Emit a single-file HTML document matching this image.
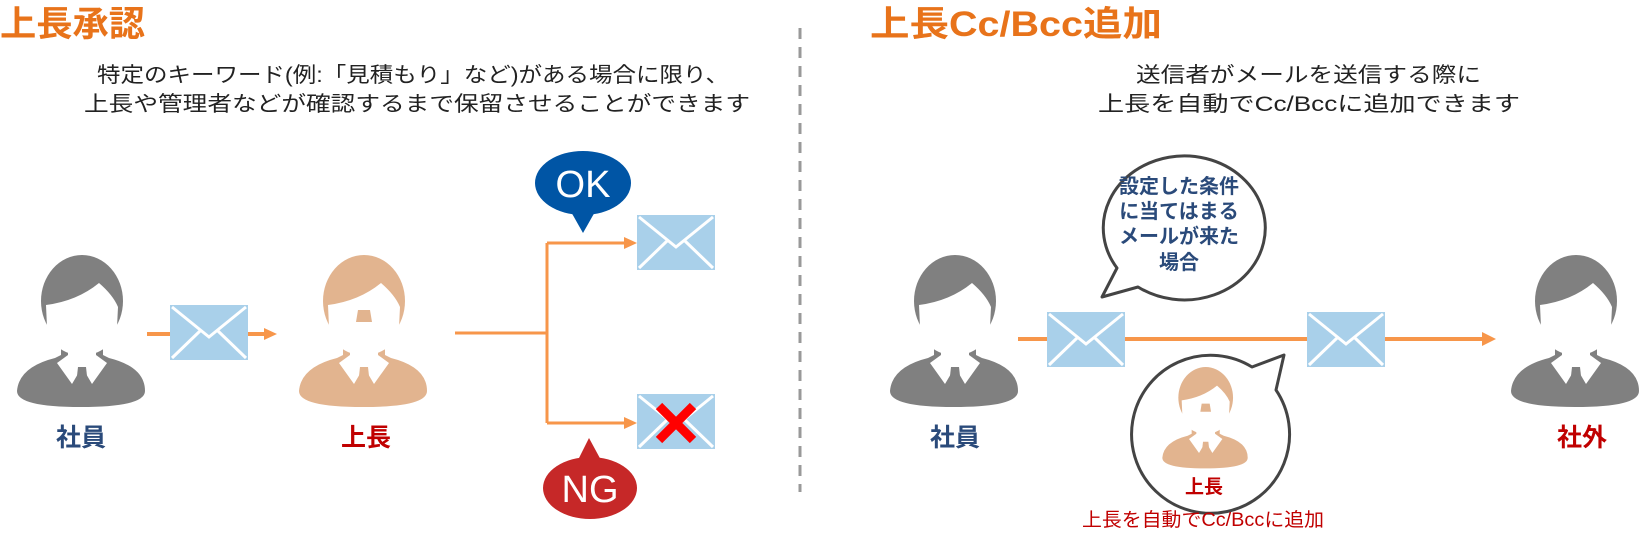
<!DOCTYPE html>
<html><head><meta charset="utf-8"><style>
html,body{margin:0;padding:0;background:#fff;}
svg{display:block;}
text{font-family:"Liberation Sans","Noto Sans CJK JP",sans-serif;}
</style></head><body>
<svg width="1640" height="533" viewBox="0 0 1640 533" xmlns="http://www.w3.org/2000/svg">
<defs>
<g id="body">
  <ellipse cx="67" cy="46" rx="41" ry="46"/>
  <path d="M2,136 Q4,112 40,103 L52,97 L82,97 L94,103 Q130,112 130,136 Q130,152 66,152 Q2,152 2,136 Z"/>
  <rect x="46" y="80" width="42" height="22"/>
</g>
<g id="face">
  <path d="M31,50 Q62,46 84,28 Q98,40 103,52 L102,72 Q97,98 67,101 Q37,98 32,72 Z" fill="#fff"/>
  <path d="M53,88 L81,88 L81,100 L92,108 L77,129 L67,112 L57,129 L42,108 L53,100 Z" fill="#fff"/>
</g>
<g id="envelope">
  <rect x="0" y="0" width="78" height="55" fill="#a9d0ea"/>
  <polyline points="2,2 39,32 76,2" fill="none" stroke="#fff" stroke-width="3"/>
  <line x1="2" y1="53" x2="30" y2="26" stroke="#fff" stroke-width="3"/>
  <line x1="76" y1="53" x2="48" y2="26" stroke="#fff" stroke-width="3"/>
</g>
</defs>

<!-- titles -->
<text x="0" y="36" font-size="35" fill="#e8731a" font-weight="bold" textLength="145" lengthAdjust="spacingAndGlyphs">上長承認</text>
<text x="870" y="36" font-size="35" fill="#e8731a" font-weight="bold" textLength="292" lengthAdjust="spacingAndGlyphs">上長Cc/Bcc追加</text>
<text x="97" y="82" font-size="21" fill="#222" textLength="632" lengthAdjust="spacingAndGlyphs">特定のキーワード(例:「見積もり」など)がある場合に限り、</text>
<text x="84" y="111" font-size="21" fill="#222" textLength="666" lengthAdjust="spacingAndGlyphs">上長や管理者などが確認するまで保留させることができます</text>
<text x="1136" y="82" font-size="21" fill="#222" textLength="345" lengthAdjust="spacingAndGlyphs">送信者がメールを送信する際に</text>
<text x="1098" y="111" font-size="21" fill="#222" textLength="422" lengthAdjust="spacingAndGlyphs">上長を自動でCc/Bccに追加できます</text>

<line x1="800" y1="28" x2="800" y2="492" stroke="#999" stroke-width="3" stroke-dasharray="11 8"/>

<!-- persons -->
<g transform="translate(15,255)" fill="#808080"><use href="#body"/><use href="#face"/><path d="M63,112 L71,112 L73,130 L67,140 L61,130 Z"/></g>
<g transform="translate(297,255)" fill="#e2b48f"><use href="#body"/><use href="#face"/><path d="M63,112 L71,112 L73,130 L67,140 L61,130 Z"/><path d="M61,55 L73,55 L75,67 L59,67 Z"/></g>
<g transform="translate(888,255)" fill="#808080"><use href="#body"/><use href="#face"/><path d="M63,112 L71,112 L73,130 L67,140 L61,130 Z"/></g>
<g transform="translate(1509,255)" fill="#808080"><use href="#body"/><use href="#face"/><path d="M63,112 L71,112 L73,130 L67,140 L61,130 Z"/></g>

<text x="81" y="446" font-size="25" font-weight="bold" fill="#2a4a7a" text-anchor="middle">社員</text>
<text x="366" y="446" font-size="25" font-weight="bold" fill="#c00000" text-anchor="middle">上長</text>
<text x="955" y="446" font-size="25" font-weight="bold" fill="#2a4a7a" text-anchor="middle">社員</text>
<text x="1582" y="446" font-size="25" font-weight="bold" fill="#c00000" text-anchor="middle">社外</text>

<!-- left arrows -->
<line x1="147" y1="334" x2="170" y2="334" stroke="#f7964a" stroke-width="4"/>
<line x1="248" y1="334" x2="266" y2="334" stroke="#f7964a" stroke-width="4"/>
<polygon points="264,328 277,334 264,340" fill="#f7964a"/>
<use href="#envelope" x="170" y="305"/>

<path d="M455,333 H547 M547,243 V423 M547,243 H625 M547,423 H625" stroke="#f7964a" stroke-width="3" fill="none"/>
<polygon points="624,237 637,243 624,249" fill="#f7964a"/>
<polygon points="624,417 637,423 624,429" fill="#f7964a"/>
<use href="#envelope" x="637" y="215"/>
<use href="#envelope" x="637" y="394"/>
<path d="M659,406 L693,440 M693,406 L659,440" stroke="#f00" stroke-width="9"/>

<ellipse cx="583" cy="183" rx="48" ry="32" fill="#0055a5"/>
<polygon points="570,210 596,210 583,233" fill="#0055a5"/>
<text x="583" y="197" font-size="38" fill="#fff" text-anchor="middle">OK</text>
<ellipse cx="590" cy="488" rx="47" ry="31" fill="#c62828"/>
<polygon points="577,462 602,462 589,438" fill="#c62828"/>
<text x="590" y="502" font-size="38" fill="#fff" text-anchor="middle">NG</text>

<!-- right flow -->
<line x1="1018" y1="339" x2="1484" y2="339" stroke="#f7964a" stroke-width="4"/>
<polygon points="1482,332 1496,339 1482,346" fill="#f7964a"/>
<use href="#envelope" x="1047" y="312"/>
<use href="#envelope" x="1307" y="312"/>

<!-- upper bubble -->
<path d="M1117,268 A81,72 0 1 1 1138,287 L1102,297 Z" fill="#fff" stroke="#444" stroke-width="3" stroke-linejoin="round"/>
<g font-size="20" font-weight="bold" fill="#2a4a7a" text-anchor="middle">
<text x="1179" y="193">設定した条件</text>
<text x="1179" y="218">に当てはまる</text>
<text x="1179" y="243">メールが来た</text>
<text x="1179" y="269">場合</text>
</g>

<!-- lower bubble -->
<path d="M1252,367 A79,79 0 1 0 1276,390 L1284,355 Z" fill="#fff" stroke="#444" stroke-width="3" stroke-linejoin="round"/>
<g transform="translate(1161,367) scale(0.667)" fill="#e2b48f"><use href="#body"/><use href="#face"/><path d="M63,112 L71,112 L73,130 L67,140 L61,130 Z"/><path d="M61,55 L73,55 L75,67 L59,67 Z"/></g>
<text x="1204" y="493" font-size="19" font-weight="bold" fill="#c00000" text-anchor="middle">上長</text>
<text x="1203" y="526" font-size="19" fill="#c00000" text-anchor="middle" textLength="242" lengthAdjust="spacingAndGlyphs">上長を自動でCc/Bccに追加</text>
</svg>
</body></html>
